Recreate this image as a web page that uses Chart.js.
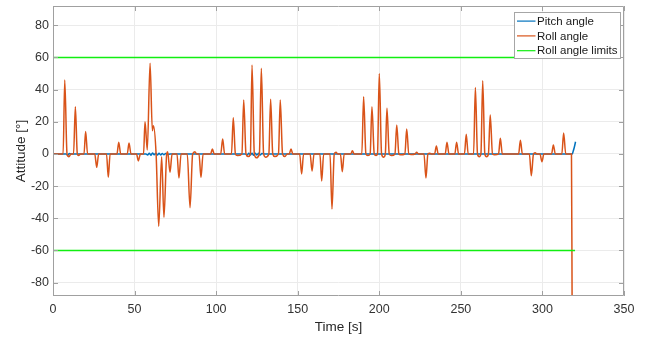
<!DOCTYPE html>
<html>
<head>
<meta charset="utf-8">
<script src="https://cdn.jsdelivr.net/npm/chart.js@4/dist/chart.umd.min.js"></script>
<style>
  html, body { margin: 0; padding: 0; background: #fff; }
  canvas { display: block; }
</style>
</head>
<body>
<canvas id="attitude" width="645" height="338"></canvas>
<script>
// values
var rollTime = [0, 6.2, 7.2, 8.6, 9.8, 11, 12.6, 13.7, 14.9, 15.7, 16.8, 19, 20, 21.2,
    25.6, 26.8, 28, 32.8, 33.9, 35, 39.2, 40.3, 41.5, 45.5, 46.6, 47.8, 51.2, 52.3, 53.6,
    55.5, 56.4, 57.8, 59.5, 60.9, 61.6, 63.2, 64.8, 66.6, 68, 69.7, 70.3, 71.7, 73, 76,
    77.2, 78.5, 82.3, 84, 85.6, 87, 88, 89.5, 90.7, 92, 96.6, 97.7, 98.8, 102.8, 104, 105.2,
    109.4, 110.5, 111.8, 113, 115.8, 116.9, 118.3, 119.7, 121, 122, 123.4, 124.6, 126.5,
    127.7, 129.1, 130.3, 132.3, 133.4, 134.7, 136, 138.2, 139.3, 140.7, 142.2, 143.5,
    144.8, 145.9, 147, 151.2, 152.4, 153.6, 157.6, 158.8, 160, 163.6, 164.7, 165.9,
    169.8, 171, 172.4, 173.5, 174.5, 176.2, 177.3, 178.5, 182.5, 183.5, 184.6, 189.3,
    190.4, 191.8, 193, 194.4, 195.5, 196.9, 198, 198.9, 200, 201.4, 202.7, 203.7, 204.7,
    206.1, 207.5, 209.6, 210.7, 212, 213, 215.7, 216.8, 218.1, 219.5, 221.9, 222.9, 224,
    227.4, 228.6, 229.8, 231, 232, 233.9, 235, 236.1, 240.4, 241.5, 242.7, 246.3, 247.4,
    248.6, 252.2, 253.3, 254.5, 257.8, 258.9, 260.2, 261.3, 262.3, 263.4, 264.7, 265.8,
    266.9, 268, 269.4, 270.8, 273.1, 274.2, 275.4, 285.4, 286.5, 287.7, 292, 293.2, 294.5,
    295.5, 296.5, 298.5, 299.7, 300.9, 305.6, 306.7, 307.9, 311.9, 313, 314.3, 317.8, 318.2];
var rollAngle = [0, 0, 46, 0, -1.7, 0, 0, 29.4, 0, -1, 0, 0, 13.9, 0,
    0, -8.3, 0, 0, -14.5, 0, 0, 7.3, 0, 0, 6.8, 0, 0, -4.3, 0,
    0, 20, 2.5, 56.4, 14.5, 17.5, 0, -45, -1.7, -39.4, 0, 1.4, -11.4, 0, 0,
    -15, 0, 0, -33.4, 0, 1.4, 0, 0, -14.7, 0, 0, 3.1, 0, 0, 9.3, 0,
    0, 22.6, 0, -1, 0, 33.6, 0, -1.6, 0, 55.3, 0, -2.4, 0,
    53.3, 0, -2, 0, 34, 0, -1.6, 0, 33.6, 0, -1.6, 0,
    0, 3.1, 0, 0, -12.4, 0, 0, -10.6, 0, 0, -16.8, 0,
    0, -34.2, 0, 1, 0, 0, -11, 0, 0, 2, 0, 0,
    35.6, 0, -1, 0, 29.4, 0, -1, 0, 50.1, 0, -2, 0, 28.4,
    0, -1, 0, 18, 0, -0.5, 0, 15.5, 0, -0.3, 0, 1, 0,
    0, -15, 0, 0.5, 0, 0, 5, 0, 0, 7.3, 0, 0, 7.3,
    0, 0, 12.2, 0, 0, 41.4, 0, -1.7, 0, 45.6, 0, -1.7,
    0, 24.2, 0, -0.5, 0, 9.7, 0, 0, 8.5, 0, 0, -13.5, 0,
    0.8, 0, 0, -4.8, 0, 0, 5.6, 0, 0, 13, 0, 0, -95];

var pitchTime = [0, 8, 9, 10, 11, 57, 58, 59, 60, 61, 62, 63, 64, 65, 66, 67, 68, 69, 70, 72,
    118, 119, 120, 121, 122, 123, 124, 125, 126, 127, 128, 130, 318.3, 318.8, 319.5, 320.3];
var pitchAngle = [0, 0, -0.8, 0.3, 0, 0, -0.7, 0.5, -0.8, 0.6, -0.5, 0.5, -0.7, 0.4, -0.6, 0.3, -0.5, 0.3, -0.4, 0,
    0, -0.6, 0.5, -0.7, 0.4, -0.8, 0.5, -0.6, 0.4, -0.7, 0.3, 0, 0, 1.5, 4, 7.6];

var limitTime = [0, 320];
var rollLimit = 60;

var xTicks = [0, 50, 100, 150, 200, 250, 300, 350];
var yTicks = [-80, -60, -40, -20, 0, 20, 40, 60, 80];

function pairs(xs, ys) {
    return xs.map(function (x, i) { return {x: x, y: ys[i]}; });
}

var limitPoints = [
    {x: limitTime[0], y: rollLimit}, {x: limitTime[1], y: rollLimit},
    {x: limitTime[1], y: null},
    {x: limitTime[0], y: -rollLimit}, {x: limitTime[1], y: -rollLimit}
];

var fontFamily = '"Liberation Sans", Arial, Helvetica, sans-serif';

// MATLAB look: full box, inward ticks, legend inside top right
var matlabBox = {
    id: 'matlabBox',
    afterDraw: function (chart) {
        var ctx = chart.ctx, a = chart.chartArea;
        var xs = chart.scales.x, ys = chart.scales.y;
        ctx.save();
        ctx.strokeStyle = '#a0a0a0';
        ctx.lineWidth = 1;
        ctx.beginPath();
        ctx.rect(Math.round(a.left) + 0.5, Math.round(a.top) + 0.5,
            Math.round(a.right - a.left) - 1, Math.round(a.bottom - a.top) - 1);
        xs.ticks.forEach(function (t) {
            var px = Math.round(xs.getPixelForValue(t.value)) + 0.5;
            ctx.moveTo(px, a.bottom); ctx.lineTo(px, a.bottom - 5);
            ctx.moveTo(px, a.top); ctx.lineTo(px, a.top + 5);
        });
        ys.ticks.forEach(function (t) {
            var py = Math.round(ys.getPixelForValue(t.value)) + 0.5;
            ctx.moveTo(a.left, py); ctx.lineTo(a.left + 5, py);
            ctx.moveTo(a.right, py); ctx.lineTo(a.right - 5, py);
        });
        ctx.stroke();

        // legend
        var w = 106, h = 46;
        var lx = Math.round(a.right - 4.5 - w) + 0.5, ly = Math.round(a.top + 5.5) + 0.5;
        ctx.fillStyle = '#ffffff';
        ctx.fillRect(lx, ly, w, h);
        ctx.strokeStyle = '#a6a6a6';
        ctx.strokeRect(lx, ly, w, h);
        ctx.font = '11.5px ' + fontFamily;
        ctx.textBaseline = 'middle';
        ctx.textAlign = 'left';
        chart.data.datasets.forEach(function (ds, i) {
            var ry = ly + 8.6 + i * 14.8;
            ctx.strokeStyle = ds.borderColor;
            ctx.lineWidth = 1.2;
            ctx.beginPath();
            ctx.moveTo(lx + 2.5, ry); ctx.lineTo(lx + 21, ry);
            ctx.stroke();
            ctx.fillStyle = '#1a1a1a';
            ctx.fillText(ds.label, lx + 22.5, ry + 0.5);
        });
        ctx.restore();
    }
};

new Chart(document.getElementById('attitude'), {
    type: 'line',
    data: {
        datasets: [{
            label: 'Pitch angle',
            data: pairs(pitchTime, pitchAngle),
            borderColor: '#0072BD',
            borderWidth: 1.5,
            pointRadius: 0,
            cubicInterpolationMode: 'monotone',
            order: 3
        }, {
            label: 'Roll angle',
            data: pairs(rollTime, rollAngle),
            borderColor: '#D95319',
            borderWidth: 1.5,
            pointRadius: 0,
            cubicInterpolationMode: 'monotone',
            order: 2
        }, {
            label: 'Roll angle limits',
            data: limitPoints,
            borderColor: '#11ee11',
            borderWidth: 1.5,
            pointRadius: 0,
            spanGaps: false,
            order: 1
        }]
    },
    options: {
        responsive: false,
        animation: false,
        devicePixelRatio: 1,
        layout: { padding: { top: 6, right: 21, left: 0, bottom: 0 } },
        plugins: { legend: { display: false }, tooltip: { enabled: false } },
        scales: {
            x: {
                type: 'linear',
                min: 0,
                max: 350,
                afterFit: function (s) { s.height = 42; s.paddingLeft = 0; s.paddingRight = 0; },
                afterBuildTicks: function (s) { s.ticks = xTicks.map(function (v) { return {value: v}; }); },
                grid: { color: '#ebebeb', drawTicks: false },
                border: { display: false },
                ticks: { padding: 6, color: '#333', font: { family: fontFamily, size: 12.5 }, maxRotation: 0 },
                title: { display: true, text: 'Time [s]', color: '#262626',
                    font: { family: fontFamily, size: 13.5 }, padding: { top: 0, bottom: 3 } }
            },
            y: {
                min: -88.3,
                max: 92,
                afterFit: function (s) { s.width = 53; s.paddingTop = 0; s.paddingBottom = 0; },
                afterBuildTicks: function (s) { s.ticks = yTicks.map(function (v) { return {value: v}; }); },
                grid: { color: '#ebebeb', drawTicks: false },
                border: { display: false },
                ticks: { padding: 4, color: '#333', font: { family: fontFamily, size: 12.5 } },
                title: { display: true, text: 'Attitude [°]', color: '#262626',
                    font: { family: fontFamily, size: 13.5 }, padding: { top: 13, bottom: 0 } }
            }
        }
    },
    plugins: [matlabBox]
});
</script>
</body>
</html>
